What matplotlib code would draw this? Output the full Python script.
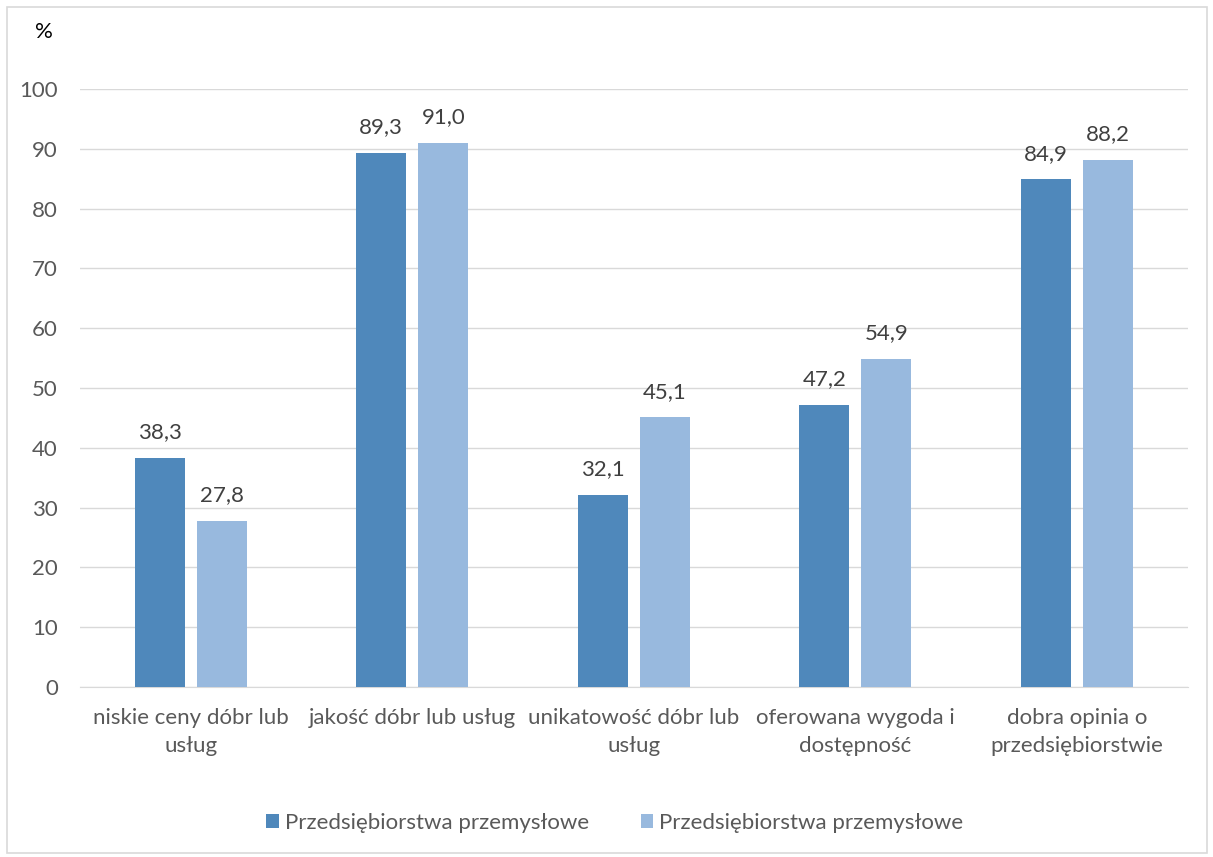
import matplotlib.pyplot as plt
import numpy as np
from matplotlib.patches import Rectangle

plt.rcParams["font.family"] = ["Lato", "DejaVu Sans"]

# Dane
kategorie = [
    "niskie ceny dóbr lub\nusług",
    "jakość dóbr lub usług",
    "unikatowość dóbr lub\nusług",
    "oferowana wygoda i\ndostępność",
    "dobra opinia o\nprzedsiębiorstwie",
]
seria_1 = [38.3, 89.3, 32.1, 47.2, 84.9]
seria_2 = [27.8, 91.0, 45.1, 54.9, 88.2]
nazwy_serii = ["Przedsiębiorstwa przemysłowe", "Przedsiębiorstwa przemysłowe"]
kolory = ["#4F88BB", "#98B9DE"]

fs = 16

fig = plt.figure(figsize=(12.13, 8.57), dpi=100)
ax = fig.add_axes([0.066, 0.1984, 0.913, 0.6976])

x = np.arange(len(kategorie))
szer = 0.226
off = 0.14

for vals, dx, kol, nazwa in zip([seria_1, seria_2], [-off, off], kolory, nazwy_serii):
    bars = ax.bar(x + dx, vals, szer, color=kol, label=nazwa, zorder=3)
    for b, v in zip(bars, vals):
        ax.text(b.get_x() + b.get_width() / 2, v + 2.6, f"{v:.1f}".replace(".", ","),
                ha="center", va="bottom", fontsize=fs, color="#404040")

ax.set_xlim(-0.5, 4.5)
ax.set_ylim(0, 100)
ax.set_yticks(range(0, 101, 10))
ax.set_xticks(x)
ax.set_xticklabels(kategorie, fontsize=fs, color="#595959", linespacing=1.5)
ax.tick_params(axis="y", labelsize=fs, labelcolor="#595959", length=0, pad=16)
ax.tick_params(axis="x", length=0, pad=15)
ax.grid(axis="y", color="#D9D9D9", linewidth=1, zorder=0)
for s in ["top", "right", "left"]:
    ax.spines[s].set_visible(False)
ax.spines["bottom"].set_color("#D9D9D9")

fig.text(44 / 1213, 1 - 32 / 857, "%", fontsize=fs, ha="center", va="center", color="#000000")

fig.legend(loc="center", bbox_to_anchor=(615 / 1213, 1 - 823 / 857), ncol=2, frameon=False,
           fontsize=fs, handlelength=0.55, handleheight=0.55, handletextpad=0.3,
           columnspacing=2.3, labelcolor="#595959")

fig.patches.append(Rectangle((7 / 1213, 4 / 857), 1200 / 1213, 846 / 857, transform=fig.transFigure,
                             fill=False, edgecolor="#D9D9D9", linewidth=1.2))

fig.savefig("out.png", dpi=100)
